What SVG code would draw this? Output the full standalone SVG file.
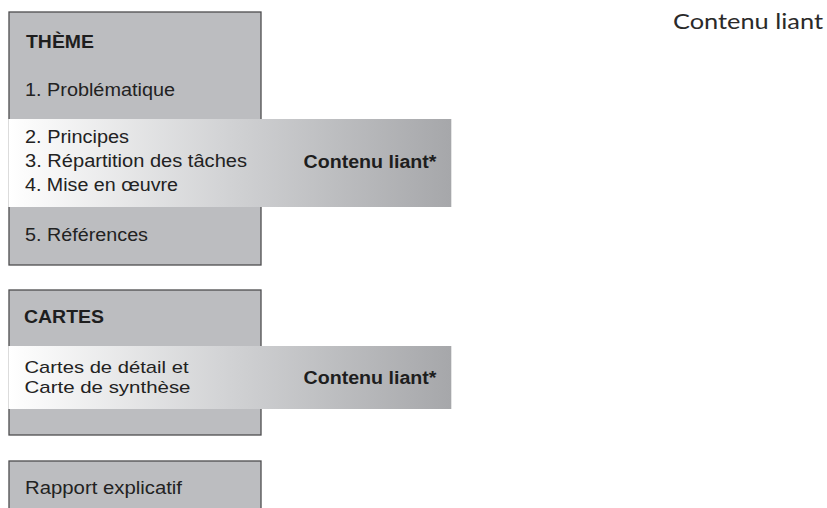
<svg xmlns="http://www.w3.org/2000/svg" width="827" height="508" viewBox="0 0 827 508">
<defs>
<linearGradient id="band" x1="0" y1="0" x2="1" y2="0">
<stop offset="0" stop-color="#ffffff"/>
<stop offset="0.04" stop-color="#fbfbfb"/>
<stop offset="0.5" stop-color="#d1d2d4"/>
<stop offset="1" stop-color="#a6a7aa"/>
</linearGradient>
<style>
.box{fill:#bcbdc0;stroke:#4d4d4f;stroke-width:1.3}
.band{fill:url(#band)}
.t{font-family:"Liberation Sans",Arial,sans-serif;font-size:17.5px;fill:#222}
.t2{font-family:"Liberation Sans",Arial,sans-serif;font-size:17px;fill:#222}
.b{font-family:"Liberation Sans",Arial,sans-serif;font-size:17.5px;font-weight:bold;fill:#1e1e1e}
.title{font-family:Lato,"Open Sans",sans-serif;font-size:22px;fill:#2a2a2a}
</style>
</defs>
<rect width="827" height="508" fill="#ffffff"/>
<g id="title">
<text class="title" x="673" y="28.5" textLength="150" lengthAdjust="spacingAndGlyphs">Contenu liant</text>
</g>
<g id="theme">
<rect class="box" x="9" y="12" width="252" height="253"/>
<rect class="band" x="8.3" y="119" width="443" height="88"/>
<text class="b" x="26" y="48.3" textLength="68" lengthAdjust="spacingAndGlyphs">THÈME</text>
<text class="t" x="25" y="95.5" textLength="150" lengthAdjust="spacingAndGlyphs">1. Problématique</text>
<text class="t" x="25" y="143.3" textLength="104" lengthAdjust="spacingAndGlyphs">2. Principes</text>
<text class="t" x="25" y="167.3" textLength="222" lengthAdjust="spacingAndGlyphs">3. Répartition des tâches</text>
<text class="t" x="25" y="191" textLength="153" lengthAdjust="spacingAndGlyphs">4. Mise en œuvre</text>
<text class="b" x="303.5" y="167.7" textLength="133" lengthAdjust="spacingAndGlyphs">Contenu liant*</text>
<text class="t" x="25" y="240.5" textLength="123" lengthAdjust="spacingAndGlyphs">5. Références</text>
</g>
<g id="cartes">
<rect class="box" x="9" y="290" width="252" height="145"/>
<rect class="band" x="8.3" y="346" width="443" height="63"/>
<text class="b" x="24" y="323.3" textLength="80" lengthAdjust="spacingAndGlyphs">CARTES</text>
<text class="t2" x="24.5" y="373" textLength="164" lengthAdjust="spacingAndGlyphs">Cartes de détail et</text>
<text class="t2" x="24.5" y="392.5" textLength="166" lengthAdjust="spacingAndGlyphs">Carte de synthèse</text>
<text class="b" x="303.5" y="384" textLength="133" lengthAdjust="spacingAndGlyphs">Contenu liant*</text>
</g>
<g id="rapport">
<rect class="box" x="9" y="461" width="252" height="60"/>
<text class="t" x="25" y="494.3" textLength="157" lengthAdjust="spacingAndGlyphs">Rapport explicatif</text>
</g>
</svg>
